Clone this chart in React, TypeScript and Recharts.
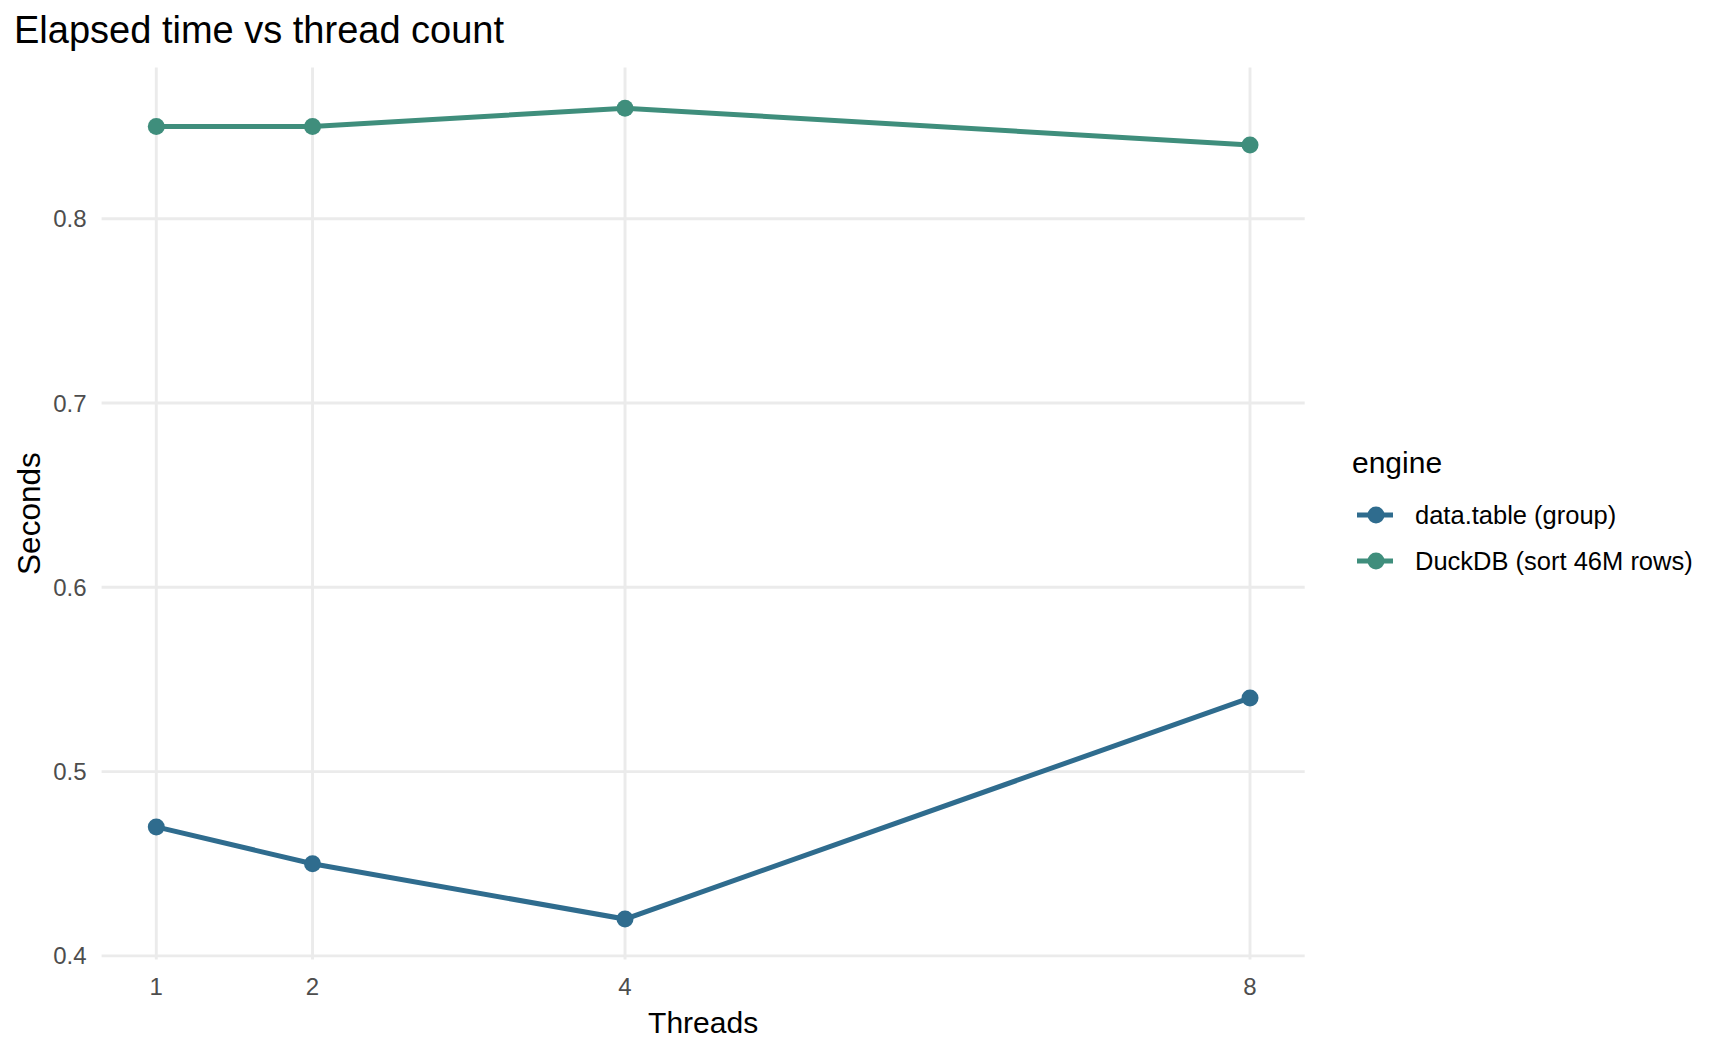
import { LineChart, Line, XAxis, YAxis, CartesianGrid, Legend, Label } from 'recharts';

const threads = [1, 2, 4, 8];
const dataTableSecs = [0.47, 0.45, 0.42, 0.54];
const duckdbSecs = [0.85, 0.85, 0.86, 0.84];
const xTicks = [1, 2, 4, 8];
const yTicks = [0.4, 0.5, 0.6, 0.7, 0.8];
const legendOrder = ['dataTable', 'duckdb'];

const rows = threads.map((t, i) => ({
  threads: t,
  dataTable: dataTableSecs[i],
  duckdb: duckdbSecs[i],
}));

const BLUE = '#2F6C8E';
const GREEN = '#3F8E7C';
const FONT = 'Arial, "Liberation Sans", sans-serif';

function EngineLegend({ payload }: any) {
  const items = [...(payload || [])].sort(
    (a: any, b: any) => legendOrder.indexOf(a.dataKey) - legendOrder.indexOf(b.dataKey)
  );
  return (
    <div style={{ position: 'relative', width: 380, height: 160, fontFamily: FONT }}>
      <div style={{ position: 'absolute', left: 12, top: 7.6, fontSize: 30, lineHeight: 1, color: '#000' }}>
        engine
      </div>
      {items.map((item: any, i: number) => (
        <div key={item.value}>
          <svg
            width={40}
            height={20}
            style={{ position: 'absolute', left: 15, top: 65 + 46 * i }}
          >
            <line x1={2} y1={10} x2={38} y2={10} stroke={item.color} strokeWidth={5} />
            <circle cx={21} cy={10} r={8.5} fill={item.color} />
          </svg>
          <div
            style={{
              position: 'absolute',
              left: 75,
              top: 62.8 + 46 * i,
              fontSize: 25.5,
              lineHeight: 1,
              whiteSpace: 'nowrap',
              color: '#000',
            }}
          >
            {item.value}
          </div>
        </div>
      ))}
    </div>
  );
}

export default function App() {
  return (
    <div style={{ position: 'absolute', left: 0, top: 0, width: 1728, height: 1056, background: '#fff', fontFamily: FONT }}>
      <div style={{ position: 'absolute', left: 14, top: 10.8, fontSize: 38, lineHeight: 1, color: '#000', whiteSpace: 'nowrap' }}>
        Elapsed time vs thread count
      </div>
      <LineChart
        width={1728}
        height={1056}
        data={rows}
        margin={{ top: 67.6, right: 423.3, bottom: 95.4, left: 100.6 }}
      >
        <CartesianGrid stroke="#EBEBEB" strokeWidth={2.9} verticalValues={xTicks} horizontalValues={yTicks} />
        <XAxis
          dataKey="threads"
          type="number"
          domain={[0.65, 8.35]}
          ticks={xTicks}
          height={1}
          axisLine={false}
          tickLine={false}
          tickSize={0}
          tickMargin={18.4}
          tick={{ fontSize: 24, fill: '#4D4D4D', fontFamily: FONT }}
          interval={0}
        >
          <Label
            content={({ viewBox }: any) => (
              <text
                x={viewBox.x + viewBox.width / 2}
                y={viewBox.y + 73.7}
                textAnchor="middle"
                fontSize={30}
                fill="#000"
                fontFamily={FONT}
              >
                Threads
              </text>
            )}
          />
        </XAxis>
        <YAxis
          type="number"
          domain={[0.398, 0.882]}
          ticks={yTicks}
          width={1}
          axisLine={false}
          tickLine={false}
          tickSize={0}
          tickMargin={15}
          tickFormatter={(v: number) => v.toFixed(1)}
          tick={{ fontSize: 24, fill: '#4D4D4D', fontFamily: FONT }}
          interval={0}
        >
          <Label
            content={({ viewBox }: any) => {
              const cx = viewBox.x + viewBox.width - 61.5;
              const cy = viewBox.y + viewBox.height / 2;
              return (
                <text
                  x={cx}
                  y={cy}
                  transform={`rotate(-90, ${cx}, ${cy})`}
                  textAnchor="middle"
                  fontSize={31.5}
                  fill="#000"
                  fontFamily={FONT}
                >
                  Seconds
                </text>
              );
            }}
          />
        </YAxis>
        <Legend
          layout="horizontal"
          align="center"
          verticalAlign="middle"
          content={<EngineLegend />}
          wrapperStyle={{ left: 1340, top: 440, width: 380, height: 160 }}
        />
        <Line
          type="linear"
          dataKey="dataTable"
          name="data.table (group)"
          stroke={BLUE}
          strokeWidth={5}
          dot={{ r: 8.5, fill: BLUE, stroke: 'none' }}
          activeDot={false}
          isAnimationActive={false}
        />
        <Line
          type="linear"
          dataKey="duckdb"
          name="DuckDB (sort 46M rows)"
          stroke={GREEN}
          strokeWidth={5}
          dot={{ r: 8.5, fill: GREEN, stroke: 'none' }}
          activeDot={false}
          isAnimationActive={false}
        />
      </LineChart>
    </div>
  );
}
